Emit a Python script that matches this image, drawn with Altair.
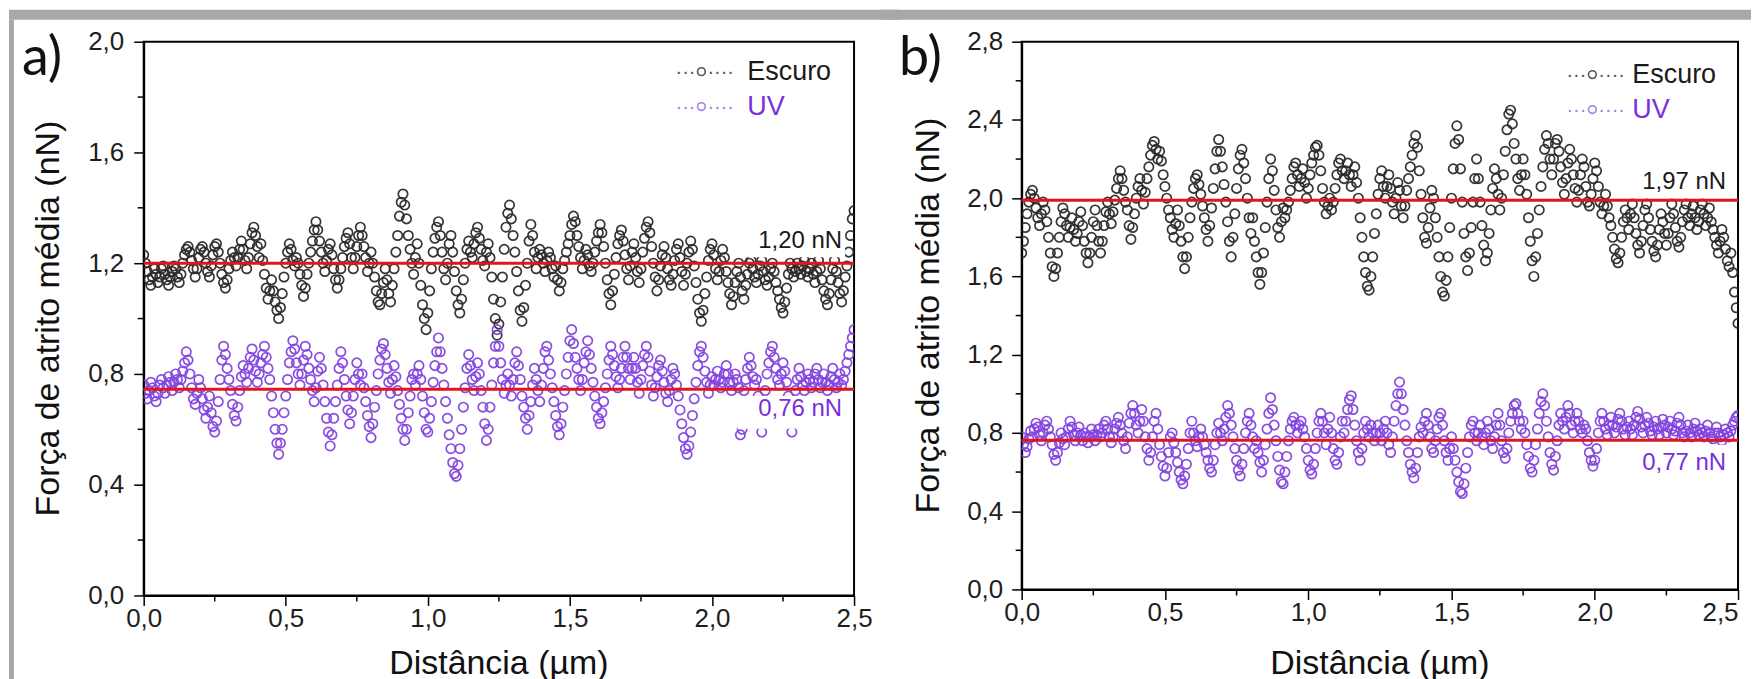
import altair as alt
import pandas as pd

# ---------------- data ----------------
STEP = 0.00625  # micrometre between samples
SERIES = ["Escuro", "UV"]

A_ESCURO = [
    1.23, 1.20, 1.17, 1.14, 1.12, 1.15, 1.18, 1.16, 1.13, 1.15, 1.18, 1.19, 1.16, 1.14, 1.12, 1.15, 1.17, 1.19, 1.18, 1.15,
    1.13, 1.16, 1.20, 1.23, 1.25, 1.26, 1.24, 1.21, 1.18, 1.15, 1.18, 1.22, 1.25, 1.26, 1.24, 1.20, 1.17, 1.15, 1.19, 1.23,
    1.26, 1.27, 1.24, 1.20, 1.16, 1.13, 1.11, 1.14, 1.18, 1.21, 1.24, 1.22, 1.19, 1.22, 1.25, 1.28, 1.25, 1.21, 1.18, 1.22,
    1.27, 1.31, 1.33, 1.30, 1.26, 1.22, 1.27, 1.21, 1.16, 1.11, 1.07, 1.10, 1.14, 1.10, 1.06, 1.03, 1.00, 1.04, 1.09, 1.15,
    1.20, 1.24, 1.27, 1.25, 1.21, 1.19, 1.22, 1.20, 1.16, 1.12, 1.08, 1.11, 1.16, 1.20, 1.24, 1.28, 1.32, 1.35, 1.32, 1.28,
    1.24, 1.20, 1.17, 1.21, 1.25, 1.27, 1.23, 1.18, 1.14, 1.11, 1.14, 1.18, 1.22, 1.26, 1.29, 1.31, 1.27, 1.22, 1.18, 1.22,
    1.26, 1.30, 1.33, 1.30, 1.26, 1.22, 1.17, 1.20, 1.24, 1.20, 1.15, 1.10, 1.06, 1.05, 1.09, 1.13, 1.18, 1.14, 1.09, 1.06,
    1.12, 1.18, 1.24, 1.30, 1.37, 1.42, 1.45, 1.41, 1.36, 1.30, 1.25, 1.20, 1.16, 1.22, 1.27, 1.20, 1.12, 1.05, 1.00, 0.96,
    1.02, 1.10, 1.18, 1.24, 1.29, 1.33, 1.35, 1.30, 1.24, 1.18, 1.14, 1.20, 1.27, 1.30, 1.24, 1.17, 1.10, 1.05, 1.02, 1.07,
    1.14, 1.20, 1.25, 1.28, 1.24, 1.22, 1.27, 1.31, 1.33, 1.29, 1.25, 1.21, 1.19, 1.24, 1.27, 1.22, 1.15, 1.07, 1.00, 0.94,
    0.98, 1.06, 1.15, 1.25, 1.33, 1.38, 1.41, 1.36, 1.30, 1.24, 1.17, 1.10, 1.03, 0.99, 1.04, 1.12, 1.20, 1.28, 1.34, 1.30,
    1.24, 1.18, 1.22, 1.25, 1.23, 1.20, 1.17, 1.21, 1.24, 1.22, 1.18, 1.15, 1.19, 1.14, 1.10, 1.13, 1.18, 1.21, 1.24, 1.27,
    1.30, 1.34, 1.37, 1.35, 1.30, 1.26, 1.22, 1.18, 1.21, 1.25, 1.23, 1.19, 1.17, 1.20, 1.24, 1.28, 1.31, 1.34, 1.31, 1.26,
    1.20, 1.14, 1.09, 1.05, 1.10, 1.16, 1.22, 1.27, 1.30, 1.32, 1.28, 1.23, 1.18, 1.14, 1.19, 1.24, 1.27, 1.22, 1.17, 1.13,
    1.18, 1.24, 1.29, 1.33, 1.35, 1.31, 1.26, 1.20, 1.15, 1.10, 1.14, 1.19, 1.23, 1.26, 1.22, 1.18, 1.14, 1.12, 1.16, 1.21,
    1.25, 1.27, 1.22, 1.17, 1.12, 1.16, 1.20, 1.24, 1.28, 1.25, 1.19, 1.13, 1.07, 1.02, 0.99, 1.03, 1.09, 1.15, 1.21, 1.25,
    1.27, 1.23, 1.18, 1.14, 1.17, 1.21, 1.25, 1.22, 1.17, 1.13, 1.09, 1.05, 1.08, 1.13, 1.17, 1.20, 1.15, 1.10, 1.07, 1.12,
    1.16, 1.20, 1.21, 1.18, 1.15, 1.13, 1.16, 1.19, 1.21, 1.17, 1.14, 1.12, 1.15, 1.18, 1.20, 1.17, 1.13, 1.10, 1.07, 1.04,
    1.02, 1.06, 1.11, 1.16, 1.20, 1.18, 1.15, 1.17, 1.20, 1.18, 1.16, 1.19, 1.21, 1.17, 1.15, 1.18, 1.20, 1.16, 1.13, 1.17,
    1.21, 1.18, 1.14, 1.10, 1.07, 1.05, 1.09, 1.14, 1.18, 1.21, 1.17, 1.13, 1.09, 1.06, 1.10, 1.15, 1.19, 1.24, 1.30, 1.36,
    1.39,
]
A_UV = [
    0.76, 0.73, 0.71, 0.74, 0.77, 0.75, 0.72, 0.70, 0.73, 0.76, 0.78, 0.75, 0.73, 0.76, 0.79, 0.77, 0.74, 0.77, 0.80, 0.78,
    0.75, 0.78, 0.81, 0.84, 0.88, 0.85, 0.80, 0.75, 0.71, 0.69, 0.73, 0.78, 0.75, 0.71, 0.67, 0.64, 0.68, 0.72, 0.66, 0.61,
    0.59, 0.63, 0.70, 0.78, 0.85, 0.90, 0.87, 0.82, 0.78, 0.74, 0.69, 0.65, 0.63, 0.68, 0.74, 0.79, 0.83, 0.80, 0.77, 0.82,
    0.86, 0.89, 0.85, 0.81, 0.77, 0.80, 0.84, 0.87, 0.90, 0.86, 0.82, 0.78, 0.72, 0.66, 0.60, 0.55, 0.51, 0.55, 0.60, 0.66,
    0.72, 0.78, 0.84, 0.88, 0.92, 0.89, 0.84, 0.80, 0.76, 0.80, 0.85, 0.90, 0.87, 0.82, 0.78, 0.74, 0.70, 0.75, 0.81, 0.86,
    0.82, 0.76, 0.70, 0.64, 0.59, 0.54, 0.58, 0.64, 0.70, 0.76, 0.82, 0.88, 0.84, 0.78, 0.72, 0.67, 0.62, 0.66, 0.72, 0.78,
    0.84, 0.80, 0.76, 0.80, 0.75, 0.70, 0.65, 0.61, 0.57, 0.62, 0.68, 0.74, 0.80, 0.85, 0.89, 0.91, 0.87, 0.82, 0.77, 0.73,
    0.78, 0.83, 0.79, 0.74, 0.69, 0.64, 0.60, 0.56, 0.60, 0.66, 0.72, 0.78, 0.80, 0.76, 0.80, 0.83, 0.78, 0.72, 0.66, 0.60,
    0.59, 0.64, 0.70, 0.77, 0.83, 0.88, 0.93, 0.88, 0.82, 0.76, 0.70, 0.64, 0.58, 0.53, 0.48, 0.44, 0.43, 0.47, 0.53, 0.60,
    0.68, 0.75, 0.82, 0.87, 0.83, 0.78, 0.74, 0.79, 0.84, 0.80, 0.74, 0.68, 0.62, 0.56, 0.60, 0.68, 0.76, 0.84, 0.90, 0.96,
    0.90, 0.84, 0.78, 0.73, 0.76, 0.80, 0.76, 0.72, 0.78, 0.84, 0.88, 0.83, 0.78, 0.72, 0.68, 0.64, 0.60, 0.65, 0.70, 0.76,
    0.82, 0.78, 0.74, 0.70, 0.76, 0.82, 0.88, 0.90, 0.85, 0.80, 0.75, 0.70, 0.65, 0.61, 0.58, 0.62, 0.68, 0.74, 0.80, 0.86,
    0.92, 0.96, 0.91, 0.86, 0.82, 0.78, 0.74, 0.78, 0.84, 0.88, 0.92, 0.87, 0.82, 0.77, 0.72, 0.68, 0.64, 0.62, 0.66, 0.70,
    0.75, 0.80, 0.85, 0.90, 0.87, 0.83, 0.79, 0.75, 0.78, 0.82, 0.86, 0.90, 0.86, 0.82, 0.78, 0.82, 0.86, 0.82, 0.77, 0.73,
    0.78, 0.83, 0.87, 0.90, 0.86, 0.81, 0.76, 0.72, 0.75, 0.79, 0.83, 0.85, 0.81, 0.77, 0.73, 0.70, 0.74, 0.78, 0.82, 0.80,
    0.76, 0.72, 0.67, 0.62, 0.57, 0.53, 0.51, 0.54, 0.59, 0.65, 0.71, 0.77, 0.83, 0.88, 0.90, 0.86, 0.81, 0.77, 0.73, 0.76,
    0.79, 0.76, 0.78, 0.81, 0.78, 0.75, 0.77, 0.80, 0.83, 0.80, 0.77, 0.74, 0.77, 0.80, 0.78, 0.75, 0.58, 0.60, 0.74, 0.78,
    0.82, 0.86, 0.83, 0.79, 0.76, 0.78, 0.72, 0.64, 0.59, 0.66, 0.74, 0.80, 0.84, 0.88, 0.90, 0.86, 0.82, 0.78, 0.76, 0.80,
    0.84, 0.81, 0.77, 0.72, 0.65, 0.59, 0.67, 0.74, 0.78, 0.82, 0.79, 0.76, 0.74, 0.77, 0.80, 0.78, 0.75, 0.77, 0.80, 0.82,
    0.78, 0.75, 0.77, 0.80, 0.77, 0.74, 0.76, 0.79, 0.82, 0.78, 0.75, 0.77, 0.80, 0.76, 0.78, 0.81, 0.84, 0.87, 0.90, 0.93,
    0.96,
]
B_ESCURO = [
    1.72, 1.78, 1.85, 1.92, 1.98, 2.02, 2.04, 2.00, 1.95, 1.90, 1.86, 1.92, 1.98, 1.94, 1.88, 1.80, 1.72, 1.65, 1.60, 1.64,
    1.72, 1.80, 1.88, 1.95, 1.92, 1.86, 1.80, 1.85, 1.90, 1.84, 1.78, 1.82, 1.88, 1.93, 1.86, 1.78, 1.72, 1.67, 1.72, 1.80,
    1.88, 1.94, 1.86, 1.78, 1.72, 1.78, 1.86, 1.93, 1.98, 1.92, 1.87, 1.93, 1.99, 2.05, 2.10, 2.14, 2.10, 2.04, 1.98, 1.94,
    1.86, 1.79, 1.85, 1.92, 2.00, 2.06, 2.10, 2.04, 1.97, 2.03, 2.10, 2.16, 2.22, 2.27, 2.29, 2.25, 2.20, 2.24, 2.19, 2.12,
    2.06, 2.00, 1.94, 1.90, 1.84, 1.80, 1.87, 1.94, 1.86, 1.78, 1.70, 1.64, 1.70, 1.80, 1.90, 1.98, 2.05, 2.10, 2.12, 2.07,
    2.02, 1.96, 1.90, 1.84, 1.78, 1.86, 1.95, 2.05, 2.15, 2.24, 2.30, 2.24, 2.16, 2.07, 1.98, 1.88, 1.78, 1.70, 1.80, 1.92,
    2.05, 2.15, 2.22, 2.25, 2.18, 2.10, 2.00, 1.90, 1.82, 1.90, 1.78, 1.70, 1.62, 1.56, 1.62, 1.72, 1.85, 1.98, 2.10, 2.20,
    2.14, 2.04, 1.94, 1.85, 1.80, 1.88, 1.95, 1.90, 1.94, 1.98, 2.04, 2.10, 2.16, 2.18, 2.12, 2.06, 2.10, 2.15, 2.08, 2.00,
    2.05, 2.12, 2.18, 2.22, 2.26, 2.27, 2.22, 2.14, 2.05, 1.98, 1.92, 1.96, 2.00, 1.94, 1.98, 2.05, 2.12, 2.18, 2.20, 2.14,
    2.10, 2.14, 2.18, 2.12, 2.06, 2.12, 2.16, 2.08, 2.00, 1.90, 1.80, 1.70, 1.62, 1.55, 1.53, 1.60, 1.70, 1.82, 1.92, 2.02,
    2.10, 2.14, 2.06, 2.00, 2.06, 2.12, 2.05, 1.98, 1.92, 2.00, 2.08, 2.04, 1.96, 1.90, 1.96, 2.04, 2.10, 2.16, 2.22, 2.28,
    2.32, 2.26, 2.14, 2.02, 1.90, 1.80, 1.77, 1.85, 1.95, 2.04, 2.00, 1.90, 1.80, 1.70, 1.60, 1.52, 1.50, 1.58, 1.70, 1.85,
    2.00, 2.15, 2.28, 2.37, 2.30, 2.15, 1.98, 1.82, 1.70, 1.63, 1.72, 1.85, 1.98, 2.10, 2.20, 2.10, 1.98, 1.86, 1.76, 1.68,
    1.72, 1.82, 1.94, 2.05, 2.15, 2.10, 2.02, 1.94, 2.00, 2.12, 2.24, 2.35, 2.43, 2.45, 2.38, 2.28, 2.20, 2.10, 2.04, 2.12,
    2.20, 2.12, 2.02, 1.90, 1.78, 1.68, 1.60, 1.70, 1.82, 1.94, 2.06, 2.16, 2.25, 2.32, 2.28, 2.20, 2.12, 2.20, 2.28, 2.30,
    2.24, 2.16, 2.08, 2.02, 2.10, 2.18, 2.25, 2.20, 2.12, 2.05, 1.98, 2.04, 2.12, 2.20, 2.16, 2.06, 1.98, 1.96, 2.02, 2.10,
    2.18, 2.14, 2.06, 1.98, 1.92, 1.96, 2.02, 1.96, 1.90, 1.86, 1.80, 1.74, 1.69, 1.67, 1.72, 1.80, 1.88, 1.94, 1.90, 1.84,
    1.92, 1.97, 1.90, 1.82, 1.76, 1.72, 1.78, 1.86, 1.94, 1.97, 1.90, 1.84, 1.78, 1.73, 1.70, 1.76, 1.84, 1.92, 1.88, 1.82,
    1.76, 1.82, 1.90, 1.97, 1.92, 1.85, 1.78, 1.75, 1.80, 1.88, 1.94, 1.97, 1.90, 1.86, 1.92, 1.96, 1.90, 1.84, 1.88, 1.94,
    1.97, 1.92, 1.86, 1.90, 1.95, 1.88, 1.84, 1.80, 1.76, 1.72, 1.78, 1.84, 1.80, 1.74, 1.68, 1.65, 1.72, 1.62, 1.52, 1.44,
    1.36,
]
B_UV = [
    0.78, 0.74, 0.70, 0.73, 0.77, 0.81, 0.78, 0.82, 0.85, 0.83, 0.79, 0.76, 0.80, 0.84, 0.86, 0.82, 0.78, 0.74, 0.69, 0.66,
    0.70, 0.75, 0.80, 0.77, 0.74, 0.78, 0.82, 0.86, 0.83, 0.79, 0.76, 0.80, 0.83, 0.79, 0.76, 0.80, 0.78, 0.75, 0.78, 0.82,
    0.79, 0.76, 0.79, 0.82, 0.78, 0.80, 0.84, 0.86, 0.82, 0.78, 0.75, 0.78, 0.82, 0.85, 0.88, 0.84, 0.80, 0.76, 0.72, 0.78,
    0.85, 0.90, 0.94, 0.90, 0.84, 0.80, 0.86, 0.92, 0.86, 0.78, 0.72, 0.66, 0.70, 0.78, 0.86, 0.90, 0.82, 0.74, 0.68, 0.63,
    0.58, 0.62, 0.70, 0.78, 0.80, 0.75, 0.70, 0.65, 0.60, 0.56, 0.54, 0.58, 0.64, 0.72, 0.80, 0.86, 0.80, 0.76, 0.73, 0.78,
    0.82, 0.78, 0.74, 0.70, 0.66, 0.62, 0.60, 0.66, 0.74, 0.80, 0.85, 0.80, 0.76, 0.82, 0.88, 0.94, 0.90, 0.84, 0.78, 0.72,
    0.66, 0.61, 0.58, 0.64, 0.72, 0.80, 0.86, 0.90, 0.84, 0.78, 0.72, 0.76, 0.70, 0.65, 0.60, 0.66, 0.74, 0.82, 0.90, 0.98,
    0.92, 0.84, 0.76, 0.68, 0.61, 0.55, 0.54, 0.60, 0.68, 0.76, 0.82, 0.86, 0.88, 0.84, 0.80, 0.84, 0.86, 0.82, 0.78, 0.72,
    0.66, 0.61, 0.59, 0.64, 0.72, 0.80, 0.86, 0.90, 0.86, 0.80, 0.74, 0.82, 0.88, 0.80, 0.72, 0.66, 0.64, 0.70, 0.78, 0.86,
    0.80, 0.86, 0.92, 0.97, 0.99, 0.92, 0.84, 0.76, 0.70, 0.66, 0.72, 0.80, 0.86, 0.82, 0.78, 0.84, 0.80, 0.76, 0.80, 0.84,
    0.80, 0.76, 0.82, 0.86, 0.80, 0.74, 0.70, 0.78, 0.86, 0.94, 1.00, 1.06, 1.00, 0.92, 0.84, 0.76, 0.70, 0.64, 0.60, 0.57,
    0.62, 0.70, 0.78, 0.83, 0.80, 0.86, 0.90, 0.84, 0.78, 0.72, 0.70, 0.76, 0.82, 0.88, 0.90, 0.84, 0.76, 0.70, 0.66, 0.72,
    0.78, 0.72, 0.66, 0.60, 0.55, 0.50, 0.49, 0.54, 0.62, 0.70, 0.78, 0.84, 0.86, 0.80, 0.76, 0.80, 0.84, 0.78, 0.74, 0.80,
    0.86, 0.82, 0.76, 0.72, 0.78, 0.84, 0.90, 0.84, 0.76, 0.70, 0.67, 0.72, 0.80, 0.86, 0.90, 0.94, 0.95, 0.90, 0.86, 0.82,
    0.86, 0.80, 0.74, 0.68, 0.62, 0.60, 0.66, 0.74, 0.82, 0.90, 0.96, 1.00, 0.94, 0.86, 0.78, 0.70, 0.64, 0.61, 0.68, 0.76,
    0.84, 0.90, 0.86, 0.82, 0.88, 0.94, 0.90, 0.84, 0.80, 0.86, 0.90, 0.86, 0.82, 0.80, 0.84, 0.82, 0.76, 0.70, 0.66, 0.63,
    0.66, 0.72, 0.80, 0.86, 0.90, 0.86, 0.82, 0.79, 0.84, 0.88, 0.84, 0.80, 0.83, 0.87, 0.90, 0.86, 0.82, 0.79, 0.83, 0.86,
    0.82, 0.79, 0.84, 0.88, 0.91, 0.87, 0.83, 0.80, 0.84, 0.88, 0.85, 0.81, 0.79, 0.83, 0.86, 0.82, 0.79, 0.83, 0.87, 0.84,
    0.80, 0.83, 0.86, 0.82, 0.79, 0.81, 0.85, 0.88, 0.84, 0.80, 0.78, 0.81, 0.84, 0.80, 0.78, 0.82, 0.85, 0.81, 0.79, 0.82,
    0.80, 0.78, 0.81, 0.84, 0.80, 0.78, 0.77, 0.80, 0.83, 0.80, 0.78, 0.76, 0.79, 0.82, 0.80, 0.78, 0.81, 0.84, 0.86, 0.88,
    0.89,
]

X_TICKS = [0.0, 0.5, 1.0, 1.5, 2.0, 2.5]
X_MINOR = [0.25, 0.75, 1.25, 1.75, 2.25]
A_Y_TICKS = [0.0, 0.4, 0.8, 1.2, 1.6, 2.0]
A_Y_MINOR = [0.2, 0.6, 1.0, 1.4, 1.8]
B_Y_TICKS = [0.0, 0.4, 0.8, 1.2, 1.6, 2.0, 2.4, 2.8]
B_Y_MINOR = [0.2, 0.6, 1.0, 1.4, 1.8, 2.2, 2.6]
A_MEAN_LINES = [1.20, 0.745]
B_MEAN_LINES = [1.99, 0.763]
A_MEAN_LABELS = ["1,20 nN", "0,76 nN"]
B_MEAN_LABELS = ["1,97 nN", "0,77 nN"]
Y_TITLE = "Força de atrito média (nN)"
X_TITLE = "Distância (µm)"

# ---------------- style ----------------
FONT = "Liberation Sans"
PT_BLACK = "#2c2c2c"
PT_PURPLE = "#8444e0"
TXT_PURPLE = "#7a2fdc"
RED = "#e3141c"
GREY_BG = "#a8a8a8"


def one_row():
    return pd.DataFrame({"k": [0]})


def txt(s, x, y, size, color="#1a1a1a", align="left", baseline="middle", angle=0, font=FONT):
    kw = dict(fontSize=size, color=color, align=align, baseline=baseline, font=font)
    if angle:
        kw["angle"] = angle
    return alt.Chart(one_row()).mark_text(**kw).encode(
        x=alt.value(x), y=alt.value(y), text=alt.value(s))


def box(x1, x2, y1, y2, color):
    return alt.Chart(one_row()).mark_rect(fill=color).encode(
        x=alt.value(x1), x2=alt.value(x2), y=alt.value(y1), y2=alt.value(y2))


def panel(esc, uv, ymax, yticks, yminor, means, labels, g):
    W, H = g["W"], g["H"]
    n = len(esc)
    xs_vals = [round(i * STEP, 5) for i in range(n)]
    df = pd.DataFrame({"x": xs_vals + xs_vals, "y": esc + uv,
                       "s": [SERIES[0]] * n + [SERIES[1]] * n})
    xs = alt.Scale(domain=[0, 2.5], nice=False, zero=False)
    ys = alt.Scale(domain=[0, ymax], nice=False, zero=False)
    common = dict(format=".1f", labelExpr="replace(datum.label, '.', ',')", title=None, grid=False,
                  domainColor="black", domainWidth=2, tickColor="black", tickWidth=1.5,
                  labelFont=FONT, labelFontSize=26, labelColor="#1e1e1e")
    xaxis = alt.Axis(values=X_TICKS, tickSize=10, labelPadding=0, labelFlush=False,
                     labelAlign=g["xalign"], **common)
    yaxis = alt.Axis(values=yticks, tickSize=10, labelPadding=g["ylabpad"], **common)
    X = lambda f: alt.X(f, scale=xs, axis=xaxis)
    Y = lambda f: alt.Y(f, scale=ys, axis=yaxis)

    pts = alt.Chart(df).mark_point(shape="circle", filled=False, size=88, strokeWidth=1.7,
                                   opacity=0.95, clip=True).encode(
        x=X("x:Q"), y=Y("y:Q"),
        color=alt.Color("s:N", scale=alt.Scale(domain=SERIES, range=[PT_BLACK, PT_PURPLE]), legend=None),
    )
    lines = alt.Chart(pd.DataFrame({"m": means})).mark_rule(color=RED, strokeWidth=3).encode(
        y=Y("m:Q"), x=alt.value(0), x2=alt.value(W))
    ymin = alt.Chart(pd.DataFrame({"v": yminor})).mark_rule(color="black", strokeWidth=1.5).encode(
        y=Y("v:Q"), x=alt.value(0), x2=alt.value(-6))
    xmin = alt.Chart(pd.DataFrame({"v": X_MINOR})).mark_rule(color="black", strokeWidth=1.5).encode(
        x=X("v:Q"), y=alt.value(H), y2=alt.value(H + 6))

    layers = [pts, lines, ymin, xmin]
    bd = g["band"]
    layers.append(box(bd[0], bd[1], bd[2], bd[3], GREY_BG))
    if "strip" in g:
        s = g["strip"]
        layers.append(box(s[0], s[1], s[2], s[3], GREY_BG))
    # white boxes behind the mean labels
    for b in g["label_boxes"]:
        layers.append(box(b[0], b[1], b[2], b[3], "white"))
    (lx, ly1, ly2) = g["label_pos"]
    layers.append(txt(labels[0], lx, ly1, 24, "#1a1a1a", align="right"))
    layers.append(txt(labels[1], lx, ly2, 24, TXT_PURPLE, align="right"))
    # legend: dotted run, open circle, dotted run, name
    L = g["legend"]
    for (name, yy, lc, tc) in [(SERIES[0], L["y"][0], "#555555", "#1a1a1a"),
                               (SERIES[1], L["y"][1], "#a57de8", TXT_PURPLE)]:
        layers.append(txt("\u00b7\u00b7\u00b7", L["xc"] - 6, yy, 20, lc, align="right"))
        layers.append(txt("\u00b7\u00b7\u00b7\u00b7", L["xc"] + 6, yy, 20, lc, align="left"))
        layers.append(alt.Chart(one_row()).mark_point(shape="circle", filled=False, color=lc,
                                                      strokeWidth=1.6, size=60, opacity=1).encode(
            x=alt.value(L["xc"]), y=alt.value(yy)))
        layers.append(txt(name, L["xt"], yy, 27, tc))
    # panel tag and axis titles
    layers.append(txt(g["tag"], g["tag_xy"][0], g["tag_xy"][1], 54, "#111", baseline="alphabetic", font="Lato"))
    layers.append(txt(Y_TITLE, g["ytitle_x"], H / 2, 34, "#111", align="center", angle=270))
    layers.append(txt(X_TITLE, W / 2, g["xtitle_y"], 34, "#111", align="center", baseline="alphabetic"))
    return alt.layer(*layers).properties(width=W, height=H)


GA = dict(W=712, H=555, xalign="center", ylabpad=10,
          band=(-135, 757, -32, -22), strip=(-135, -130, -22, 639),
          label_boxes=[(595, 703, 182, 216), (595, 703, 355, 388)],
          label_pos=(700, 200, 368),
          legend=dict(xc=559, xt=605, y=[30, 65]),
          tag="a)", tag_xy=(-122, 33), ytitle_x=-95, xtitle_y=634)
GB = dict(W=718, H=549, ylabpad=9,
          xalign={"condition": {"test": "datum.value >= 2.5", "value": "right"}, "value": "center"},
          band=(-141, 731, -32, -22),
          label_boxes=[(603, 709, 117, 154), (597, 709, 404, 435)],
          label_pos=(706, 141, 422),
          legend=dict(xc=572, xt=612, y=[33, 68]),
          tag="b)", tag_xy=(-123, 33), ytitle_x=-93, xtitle_y=634)

pa = panel(A_ESCURO, A_UV, 2.0, A_Y_TICKS, A_Y_MINOR, A_MEAN_LINES, A_MEAN_LABELS, GA)
pb = panel(B_ESCURO, B_UV, 2.8, B_Y_TICKS, B_Y_MINOR, B_MEAN_LINES, B_MEAN_LABELS, GB)

chart = alt.hconcat(pa, pb, spacing=-20).properties(padding=0, background="white").configure(
    font=FONT).configure_view(stroke="black", strokeWidth=2)

chart.save("out.html", embed_options={"renderer": "svg", "actions": False})
